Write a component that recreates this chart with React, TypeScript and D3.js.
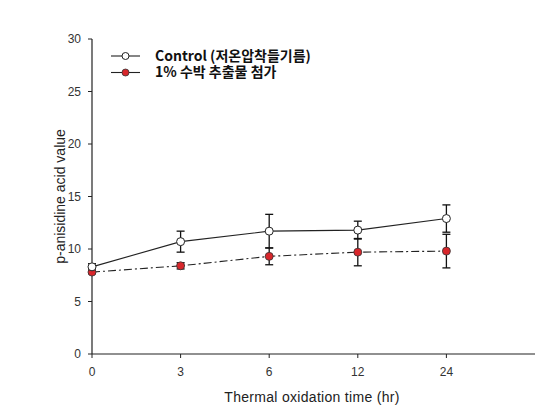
import React from "react";
import * as d3 from "d3";

const categories = ["0", "3", "6", "12", "24"];
const controlValues = [8.3, 10.7, 11.7, 11.8, 12.9];
const controlErrors = [0.3, 1.0, 1.6, 0.85, 1.3];
const treatValues = [7.8, 8.4, 9.3, 9.7, 9.8];
const treatErrors = [0.15, 0.3, 0.8, 1.3, 1.6];
const yTicks = [0, 5, 10, 15, 20, 25, 30];
const seriesNames = ["Control (저온압착들기름)", "1% 수박 추출물 첨가"];

const W = 553, H = 413;

export default function App() {
  const x = d3.scaleLinear().domain([0, 5]).range([92, 535]);
  const y = d3.scaleLinear().domain([0, 30]).range([354, 39]);
  const line = d3.line<number>().x((_, i) => x(i)).y((d) => y(d));
  const font = "'Liberation Sans', Arial, sans-serif";
  const korean = "'Noto Sans CJK KR', 'Noto Sans', sans-serif";

  const errBars = (vals: number[], errs: number[], key: string) =>
    vals.map((v, i) => {
      const cx = x(i);
      const top = y(v + errs[i]);
      const bot = y(v - errs[i]);
      return (
        <g key={key + i} stroke="#111" strokeWidth={1.3}>
          <line x1={cx} x2={cx} y1={top} y2={bot} />
          <line x1={cx - 4} x2={cx + 4} y1={top} y2={top} />
          <line x1={cx - 4} x2={cx + 4} y1={bot} y2={bot} />
        </g>
      );
    });

  return (
    <svg width={W} height={H} style={{ position: "absolute", left: 0, top: 0, background: "#fff" }}>
      {/* axes */}
      <line x1={x(0)} x2={x(0)} y1={y(30)} y2={y(0)} stroke="#222" strokeWidth={1.2} />
      <line x1={x(0)} x2={x(5)} y1={y(0)} y2={y(0)} stroke="#222" strokeWidth={1.2} />
      {yTicks.map((t) => (
        <g key={"y" + t}>
          <line x1={x(0) - 4} x2={x(0)} y1={y(t)} y2={y(t)} stroke="#222" />
          <text x={x(0) - 11} y={y(t)} dy="0.36em" textAnchor="end" fontSize={12} fontFamily={font} fill="#333">
            {t}
          </text>
        </g>
      ))}
      {categories.map((c, i) => (
        <g key={"x" + c}>
          <line x1={x(i)} x2={x(i)} y1={y(0)} y2={y(0) + 4} stroke="#222" />
          <text x={x(i)} y={y(0) + 22} textAnchor="middle" fontSize={12} fontFamily={font} fill="#333">
            {c}
          </text>
        </g>
      ))}
      <text x={312} y={402} textAnchor="middle" fontSize={14} letterSpacing={0.3} fontFamily={font} fill="#222">
        Thermal oxidation time (hr)
      </text>
      <text
        transform={`translate(65,${y(15)}) rotate(-90)`}
        textAnchor="middle"
        fontSize={14}
        fontFamily={font}
        fill="#222"
      >
        p-anisidine acid value
      </text>

      {/* error bars */}
      {errBars(controlValues, controlErrors, "c")}
      {errBars(treatValues, treatErrors, "t")}

      {/* lines */}
      <path d={line(treatValues) || ""} fill="none" stroke="#222" strokeWidth={1.1} strokeDasharray="8,3,2,3" />
      <path d={line(controlValues) || ""} fill="none" stroke="#222" strokeWidth={1.1} />

      {/* markers */}
      {treatValues.map((v, i) => (
        <circle key={"tm" + i} cx={x(i)} cy={y(v)} r={4} fill="#d8262b" stroke="#333" strokeWidth={0.8} />
      ))}
      {controlValues.map((v, i) => (
        <circle key={"cm" + i} cx={x(i)} cy={y(v)} r={4} fill="#fff" stroke="#222" strokeWidth={1} />
      ))}

      {/* legend */}
      <line x1={111} x2={140} y1={56} y2={56} stroke="#222" strokeWidth={1.1} />
      <circle cx={125.5} cy={56} r={3.5} fill="#fff" stroke="#222" strokeWidth={1} />
      <text x={155} y={56} dy="0.35em" fontSize={14} fontWeight="bold" fontFamily={korean} fill="#111">
        {seriesNames[0]}
      </text>
      <line x1={111} x2={140} y1={72.5} y2={72.5} stroke="#222" strokeWidth={1.1} />
      <circle cx={125.5} cy={72.5} r={3.5} fill="#d8262b" stroke="#333" strokeWidth={0.8} />
      <text x={155} y={72.5} dy="0.35em" fontSize={14} fontWeight="bold" fontFamily={korean} fill="#111">
        {seriesNames[1]}
      </text>
    </svg>
  );
}
